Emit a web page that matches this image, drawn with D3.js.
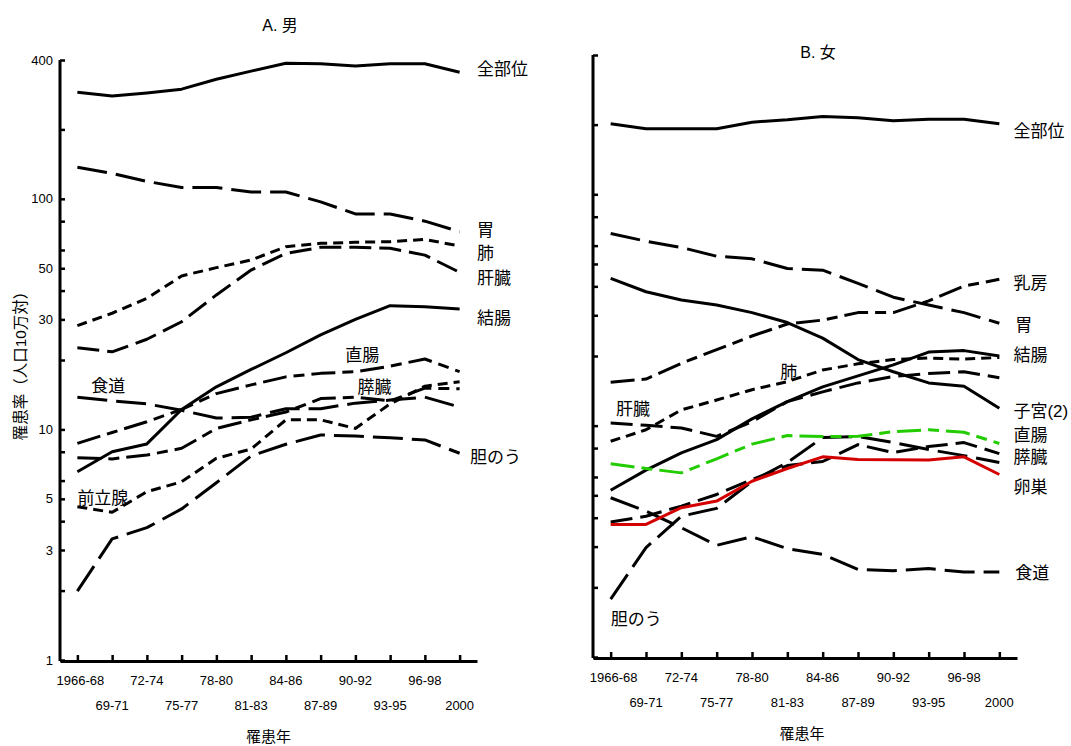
<!DOCTYPE html>
<html>
<head>
<meta charset="utf-8">
<script src="https://cdn.jsdelivr.net/npm/d3@7"></script>
<style>
  body { margin: 0; background: #fff; }
  text { font-family: "Liberation Sans", Arial, "Noto Sans CJK JP", sans-serif; fill: #000; }
</style>
</head>
<body>
<svg id="chart" width="1071" height="746"></svg>
<script>
// periods (x categories)
const periods = ["1966-68", "69-71", "72-74", "75-77", "78-80", "81-83", "84-86", "87-89", "90-92", "93-95", "96-98", "2000"];
const yTicks = [400, 200, 100, 80, 60, 50, 40, 30, 20, 10, 8, 6, 5, 4, 3, 2, 1];
const yTickLabels = [400, 100, 50, 30, 10, 5, 3, 1];

// A. male, incidence per 100,000
const mAll      = [290, 279, 288, 299, 330, 358, 387, 385, 377, 385, 385, 354];
const mStomach  = [137, 129, 119, 112, 112, 107, 107, 97, 86, 86, 80, 72];
const mLung     = [28.2, 31.9, 37, 46.3, 50.3, 54.3, 62, 64.1, 64.8, 65.2, 66.7, 62.4];
const mLiver    = [22.6, 21.7, 24.6, 29.3, 38.3, 49.1, 58, 61.6, 61.6, 61, 57, 48];
const mColon    = [6.55, 8.0, 8.65, 12.2, 15.3, 18.2, 21.5, 25.7, 30.0, 34.4, 34.0, 33.3];
const mRectum   = [8.7, 9.7, 10.8, 12.2, 14.3, 15.6, 16.9, 17.5, 17.8, 18.8, 20.2, 17.8];
const mEsoph    = [13.8, 13.3, 12.9, 12.1, 11.2, 11.3, 12.3, 12.3, 13.0, 13.4, 13.8, 12.5];
const mPancreas = [7.54, 7.45, 7.74, 8.28, 10.1, 11.0, 11.9, 13.6, 13.8, 13.3, 15.1, 15.0];
const mProstate = [4.62, 4.37, 5.37, 5.93, 7.49, 8.22, 11.0, 11.0, 10.1, 12.9, 15.4, 16.1];
const mGall     = [1.99, 3.35, 3.75, 4.52, 5.87, 7.67, 8.62, 9.46, 9.36, 9.2, 9.0, 7.88];

// B. female
const fAll      = [202, 192, 192, 192, 205, 210, 217, 214, 208, 211, 211, 202];
const fStomach  = [67.7, 62.7, 58.9, 54.0, 52.6, 47.8, 47.0, 41.2, 35.9, 33.2, 30.8, 27.7];
const fBreast   = [15.4, 15.9, 18.6, 21.3, 24.4, 27.5, 28.6, 30.8, 30.8, 34.6, 40.1, 42.9];
const fUterus   = [43.3, 37.9, 34.9, 33.2, 30.8, 27.9, 23.9, 19.3, 17.1, 15.3, 14.8, 11.9];
const fColon    = [5.26, 6.42, 7.63, 8.7, 10.7, 12.7, 14.7, 16.4, 18.3, 20.8, 21.1, 20.0];
const fLung     = [8.56, 9.6, 11.7, 12.9, 14.3, 15.5, 17.4, 18.5, 19.3, 19.6, 19.4, 19.7];
const fLiver    = [10.27, 10.03, 9.77, 8.99, 10.4, 12.7, 14.0, 15.3, 16.3, 16.8, 17.1, 16.1];
const fRectum   = [6.84, 6.53, 6.25, 7.19, 8.32, 9.06, 8.97, 8.99, 9.42, 9.6, 9.36, 8.37];
const fPancreas = [3.83, 4.06, 4.49, 5.04, 5.85, 6.72, 7.0, 8.28, 7.65, 8.12, 8.45, 7.57];
const fOvary    = [3.74, 3.74, 4.42, 4.72, 5.75, 6.53, 7.33, 7.14, 7.12, 7.1, 7.33, 6.15];
const fEsoph    = [4.88, 4.27, 3.62, 3.04, 3.31, 2.94, 2.78, 2.39, 2.36, 2.41, 2.33, 2.33];
const fGall     = [1.78, 2.97, 4.06, 4.39, 5.74, 6.93, 8.88, 8.97, 8.45, 7.88, 7.42, 6.93];

const LONG = "30,9", SHORT = "10,6", MID = "22,8", MIX = "24,7,11,7";

const male = [
  { values: mAll, dash: null },
  { values: mStomach, dash: LONG },
  { values: mLung, dash: SHORT },
  { values: mLiver, dash: MID },
  { values: mColon, dash: null },
  { values: mRectum, dash: MIX },
  { values: mEsoph, dash: LONG },
  { values: mPancreas, dash: MIX },
  { values: mProstate, dash: SHORT },
  { values: mGall, dash: LONG }
];
// labels: [text, category index (fractional), value, anchor]
const maleLabels = [
  ["全部位", 11.5, 365, "start"], ["胃", 11.5, 73.2, "start"], ["肺", 11.5, 58.2, "start"],
  ["肝臓", 11.5, 45.4, "start"], ["結腸", 11.5, 30.4, "start"], ["胆のう", 11.3, 7.6, "start"],
  ["直腸", 8.2, 21.0, "middle"], ["食道", 0.4, 15.4, "start"], ["膵臓", 8.55, 15.3, "middle"],
  ["前立腺", 0.0, 5.04, "start"]
];

const female = [
  { values: fAll, dash: null },
  { values: fStomach, dash: LONG },
  { values: fBreast, dash: MIX },
  { values: fUterus, dash: null },
  { values: fColon, dash: null },
  { values: fLung, dash: SHORT },
  { values: fLiver, dash: MID },
  { values: fPancreas, dash: MID },
  { values: fEsoph, dash: LONG },
  { values: fGall, dash: LONG },
  { values: fRectum, dash: MIX, color: "#22cc00" },
  { values: fOvary, dash: null, color: "#d40000" }
];
const femaleLabels = [
  ["全部位", 11.4, 188.7, "start"], ["乳房", 11.4, 41.3, "start"], ["胃", 11.45, 27.3, "start"],
  ["結腸", 11.4, 20.2, "start"], ["子宮(2)", 11.4, 11.6, "start"], ["直腸", 11.4, 9.15, "start"],
  ["膵臓", 11.4, 7.35, "start"], ["卵巣", 11.4, 5.46, "start"], ["食道", 11.45, 2.32, "start"],
  ["肝臓", 0.15, 11.8, "start"], ["肺", 4.8, 17.1, "start"], ["胆のう", 0.0, 1.46, "start"]
];

const svg = d3.select("#chart");

function drawPanel(cfg) {
  const x = d3.scalePoint().domain(periods).range([cfg.left, cfg.right]).padding(0.5);
  const y = d3.scaleLog().domain([1, 400]).range([cfg.bottom, cfg.top]);
  const step = x.step();
  const xi = i => x(periods[0]) + i * step;
  const g = svg.append("g");

  // y axis, inward ticks
  const yAxis = d3.axisLeft(y)
    .tickValues(yTicks)
    .tickSizeInner(-5)
    .tickSizeOuter(0)
    .tickPadding(7)
    .tickFormat(d => cfg.yLabels && yTickLabels.includes(d) ? d : "");
  const ya = g.append("g").attr("transform", `translate(${cfg.left},0)`).call(yAxis);
  ya.select(".domain").attr("stroke-width", 3).attr("d", `M0,${cfg.top}V${cfg.bottom + 1}`);
  ya.selectAll(".tick line").attr("stroke-width", 2.5);
  ya.selectAll(".tick text").style("font-size", "13px").style("font-family", "Liberation Sans, Arial, sans-serif");

  // x axis, inward ticks, labels in two rows
  const xAxis = d3.axisBottom(x).tickSizeInner(-6).tickSizeOuter(0).tickFormat("");
  const xa = g.append("g").attr("transform", `translate(0,${cfg.bottom + 1})`).call(xAxis);
  xa.select(".domain").attr("stroke-width", 3);
  xa.selectAll(".tick line").attr("stroke-width", 2.5);

  g.selectAll(".xlab").data(periods).enter().append("text")
    .attr("x", d => x(d) + (d === periods[0] ? 3 : 0))
    .attr("y", (d, i) => cfg.bottom + (i % 2 === 0 ? 25 : 50))
    .attr("text-anchor", "middle")
    .style("font-size", "13px")
    .text(d => d);

  g.append("text")
    .attr("x", (cfg.left + cfg.right) / 2 + cfg.xTitleDx)
    .attr("y", cfg.bottom + cfg.xTitleDy)
    .attr("text-anchor", "middle")
    .style("font-size", "15px")
    .text("罹患年");

  g.append("text")
    .attr("x", cfg.titleX)
    .attr("y", cfg.titleY)
    .attr("text-anchor", "middle")
    .style("font-size", "16px")
    .text(cfg.title);

  const line = d3.line()
    .x((d, i) => x(periods[i]))
    .y(d => y(d));

  g.selectAll(".series").data(cfg.series).enter().append("path")
    .attr("d", d => line(d.values))
    .attr("fill", "none")
    .attr("stroke", d => d.color || "#000")
    .attr("stroke-width", 3)
    .attr("stroke-dasharray", d => d.dash)
    .attr("stroke-linejoin", "round");

  g.selectAll(".lab").data(cfg.labels).enter().append("text")
    .attr("x", d => xi(d[1]))
    .attr("y", d => y(d[2]))
    .attr("dy", "0.36em")
    .attr("text-anchor", d => d[3])
    .style("font-size", "17px")
    .text(d => d[0]);
}

drawPanel({
  left: 60, right: 477, top: 60, bottom: 660,
  series: male, labels: maleLabels, yLabels: true,
  title: "A. 男", titleX: 280, titleY: 31, xTitleDx: 0, xTitleDy: 82
});
drawPanel({
  left: 593, right: 1017, top: 55, bottom: 657,
  series: female, labels: femaleLabels, yLabels: false,
  title: "B. 女", titleX: 818, titleY: 58, xTitleDx: -3, xTitleDy: 82
});

svg.append("text")
  .attr("transform", "translate(26,362) rotate(-90)")
  .attr("text-anchor", "middle")
  .style("font-size", "15.5px")
  .text("罹患率（人口10万対）");
</script>
</body>
</html>
